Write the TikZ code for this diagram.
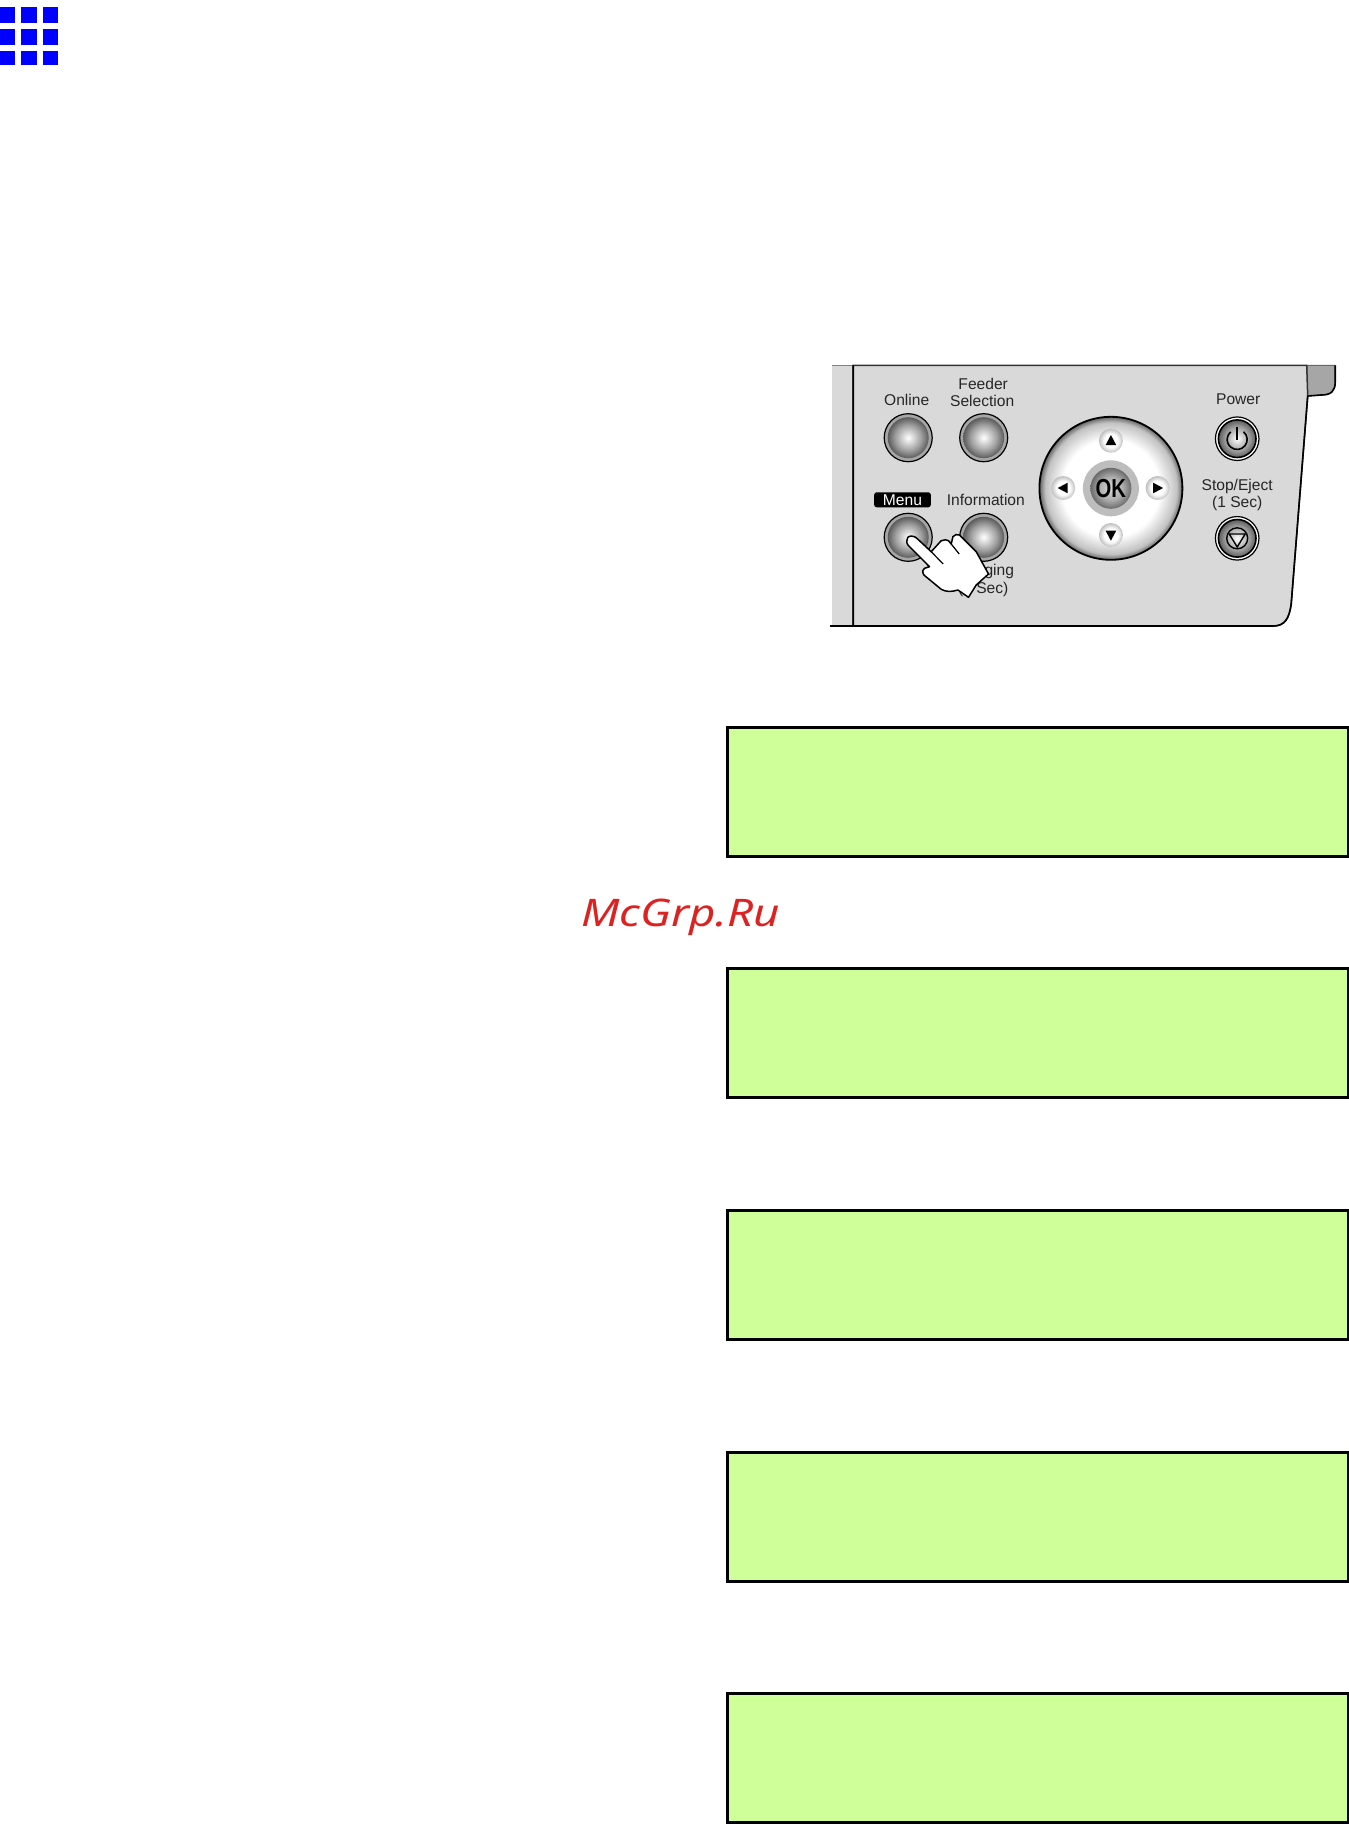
\documentclass[tikz,border=0pt]{standalone}
\usepackage{fontspec}
\setmainfont{Liberation Sans}
\newfontfamily\markfont{Noto Sans}
\usetikzlibrary{shapes.geometric}
\pgfdeclareradialshading{btnshade}{\pgfpoint{0bp}{0bp}}{color(0bp)=(white); color(6bp)=(white!86!black); color(16bp)=(black!38); color(25bp)=(black!64); color(50bp)=(black!64)}
\pgfdeclareradialshading{dialshade}{\pgfpoint{0bp}{0bp}}{color(0bp)=(white); color(17bp)=(white); color(23bp)=(black!24); color(25bp)=(black!60); color(50bp)=(black!60)}
\pgfdeclareradialshading{okshade}{\pgfpoint{0bp}{0bp}}{color(0bp)=(black!15); color(14bp)=(black!32); color(25bp)=(black!58); color(50bp)=(black!58)}
\pgfdeclareradialshading{dotshade}{\pgfpoint{0bp}{0bp}}{color(0bp)=(white); color(14bp)=(white); color(25bp)=(black!25); color(50bp)=(black!25)}
\definecolor{lcdgreen}{HTML}{CEFF99}
\definecolor{panelgray}{gray}{0.85}
\definecolor{markred}{HTML}{DD2222}
\tikzset{
  lbl/.style={inner sep=0pt, font=\fontsize{15.6}{16}\selectfont, text=black!85},
  tickbox/.style={fill=blue, draw=none},
  lcdbox/.style={draw=black, line width=3pt, fill=lcdgreen},
  roundbtn/.style={circle, draw=black, line width=1.2pt, fill=black!35, minimum size=48pt, inner sep=0pt},
  ringbtn/.style={circle, draw=black, line width=1.2pt, fill=white, minimum size=43.5pt, inner sep=0pt},
  dotbtn/.style={circle, draw=none, shading=dotshade, minimum size=24pt, inner sep=0pt},
  tri/.style={fill=black, draw=none}
}
\begin{document}
\begin{tikzpicture}[x=1pt, y=-1pt]
\useasboundingbox (0,0) rectangle (1349,1824);
% Corner grid
\foreach \gx/\gw in {0/15,21/16,43/15}
  \foreach \gy/\gh in {7/15.7,29/15.7,51/14}
    \fill[tickbox] (\gx,\gy) rectangle ++(\gw,\gh);
% Display boxes
\foreach \ly in {727,968,1210,1452,1693}
  \draw[lcdbox] (727,\ly) rectangle (1348,\ly+129);
% Watermark
\node[inner sep=0pt, anchor=base west, text=markred] (wmark) at (581,926.7)
  {\markfont\itshape\fontsize{38}{38}\selectfont\scalebox{1.2}[1]{McGrp.Ru}};
\begin{scope}[xshift=1.2pt]
% Panel
\fill[panelgray] (831,365.3) rectangle (852,626);
\draw[black!50, line width=1.2pt] (831,365.3) -- (852,365.3);
\draw[fill=black!35, draw=black!60, line width=1pt] (1305.5,365.3) -- (1334,365.3) -- (1334,382) .. controls (1334,391) and (1330,395) .. (1320,395) -- (1306.5,396) -- cycle;
\draw[black, line width=1.6pt] (1334,365.3) -- (1334,382) .. controls (1334,391) and (1330,395) .. (1320,395) -- (1306.5,396);
\draw[fill=panelgray, draw=black!80, line width=1.5pt] (852,365.3) -- (1305.5,365.3) -- (1306.5,396) -- (1290,604) .. controls (1288,618) and (1284,626) .. (1272,626) -- (852,626) -- cycle;
\draw[black, line width=1.6pt] (829,626) -- (852,626);
\draw[black, line width=1.6pt] (1306.5,396) -- (1290,604) .. controls (1288,618) and (1284,626) .. (1272,626) -- (852,626) -- (852,365.3);
% Plain buttons
\foreach \bname/\bx/\by in {online/907/437.7,feeder/982.5/437.7,menu/907/537.3,info/982.5/537.3} {
  \node[roundbtn] (\bname) at (\bx,\by) {};
  \shade[shading=btnshade] (\bx,\by) circle (20.5);
}
% Dial
\node[circle, draw=black, line width=1.8pt, shading=dialshade, minimum size=143pt, inner sep=0pt] (dial) at (1109.7,488.3) {};
\node[circle, draw=none, fill=black!26, minimum size=56pt, inner sep=0pt] (okring) at (dial) {};
\node[circle, draw=none, shading=okshade, minimum size=41pt, inner sep=0pt, font=\bfseries\fontsize{26}{26}\selectfont] (okbtn) at (dial) {\scalebox{0.78}[1]{OK}};
\node[dotbtn] (upbtn) at (1109.7,440.7) {};
\node[dotbtn] (downbtn) at (1109.7,535) {};
\node[dotbtn] (leftbtn) at (1062,488) {};
\node[dotbtn] (rightbtn) at (1156.4,488) {};
\fill[tri] (1109.7,435) -- (1115,445) -- (1104.4,445) -- cycle;
\fill[tri] (1109.7,540.7) -- (1115,530.7) -- (1104.4,530.7) -- cycle;
\fill[tri] (1056.5,488) -- (1066.5,482.7) -- (1066.5,493.3) -- cycle;
\fill[tri] (1161.9,488) -- (1151.9,482.7) -- (1151.9,493.3) -- cycle;
% Power and stop
\foreach \rname/\ry in {power/438.7,stopbtn/538.3} {
  \node[ringbtn] (\rname) at (1236,\ry) {};
  \shade[shading=btnshade, draw=black, line width=1.6pt] (1236,\ry) circle (18.8);
}
\draw[black, line width=1.6pt] (1242.4,431.8) arc[start angle=-50, end angle=230, radius=10];
\draw[black, line width=1.6pt] (1236,427) -- (1236,440);
\draw[black, line width=1.4pt] (1236,538.3) circle (10.5);
\draw[black, line width=1.4pt] (1228,534) -- (1244,534) -- (1236,547) -- cycle;
% Labels
\node[lbl] (onlinetxt) at (905.5,400) {Online};
\node[lbl] (feedertxt) at (982,384) {Feeder};
\node[lbl] (selecttxt) at (981,400.7) {Selection};
\node[lbl] (powertxt) at (1237,399) {Power};
\node[lbl] (stoptxt) at (1236,486) {Stop/Eject};
\node[lbl] (sectxt) at (1236,503.7) {(1 Sec)};
\node[lbl] (infotxt) at (984.6,500) {Information};
\node[rounded corners=2.5pt, fill=black, text=white, minimum width=56.6pt, minimum height=15pt, inner sep=0pt, font=\fontsize{15.6}{16}\selectfont] (menutxt) at (901.3,499.8) {Menu};
\node[lbl, anchor=east] (gingtxt) at (1013,571.7) {ging};
\node[lbl] (holdtxt) at (982,589.3) {(1 Sec)};
% Hand
\draw[fill=white, draw=black, line width=1.5pt, line join=round] (905.7,540.7) .. controls (906,537) and (908,535.5) .. (910,536) .. controls (912,536) and (914,537) .. (915,537.7) -- (930,551.7) -- (940,540.7) .. controls (943,539.5) and (946,539.5) .. (947.3,540.7) -- (950,544) -- (951.7,536.7) .. controls (953,534.5) and (956,534) .. (958.3,535) -- (975,551.7) -- (987.3,574) -- (975,585) -- (967.3,597.3) -- (956.7,590) .. controls (950,592) and (945,592) .. (940,589.3) -- (922.7,575) .. controls (921,572) and (921,569) .. (923.3,568.3) -- (928.3,566.7) -- (906.7,545) .. controls (905.5,543.5) and (905.5,542) .. (905.7,540.7) -- cycle;
\draw[black, line width=1.2pt] (930,551.7) -- (942,564);
\draw[black, line width=1.2pt] (950,544) -- (958,554);
\end{scope}
\end{tikzpicture}
\end{document}
